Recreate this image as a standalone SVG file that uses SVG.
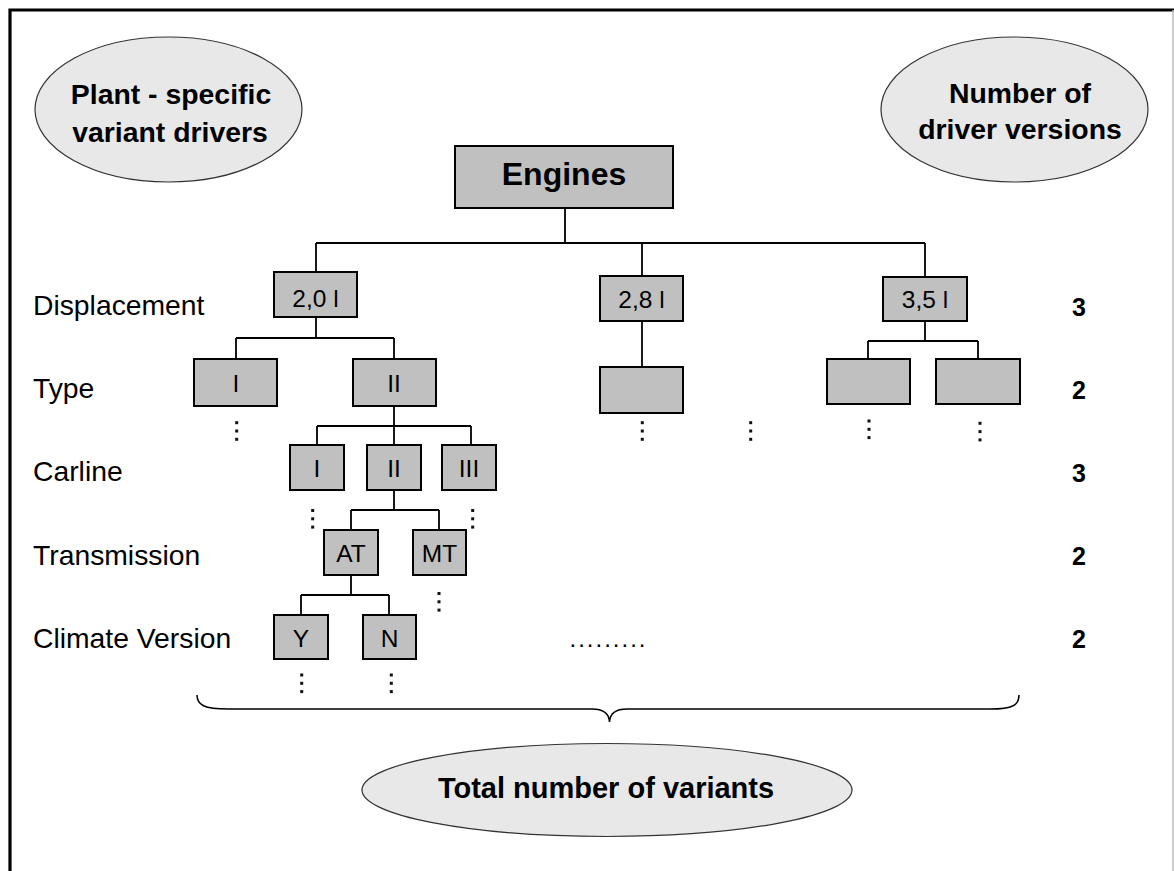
<svg xmlns="http://www.w3.org/2000/svg" xmlns:xlink="http://www.w3.org/1999/xlink" width="1174" height="871" viewBox="0 0 1174 871">
<style>
.oval{fill:#e8e8e8;stroke:#333;stroke-width:1.2}
.box{fill:#c0c0c0;stroke:#000;stroke-width:2}
.con{fill:none;stroke:#000;stroke-width:1.8}
.bt{font-family:"Liberation Sans",Arial,sans-serif;font-weight:bold;fill:#000;text-anchor:middle}
.lbl{font-family:"Liberation Sans",Arial,sans-serif;font-size:28.3px;fill:#000}
.num{font-family:"Liberation Sans",Arial,sans-serif;font-size:25px;font-weight:bold;fill:#000}
.bx{font-family:"Liberation Sans",Arial,sans-serif;font-size:24.5px;fill:#000;text-anchor:middle}
</style>
<defs>
<g id="vd"><rect x="-1.5" y="-1.5" width="3" height="3" fill="#111"/><rect x="-1.5" y="6.8" width="3" height="3" fill="#111"/><rect x="-1.5" y="15.1" width="3" height="3" fill="#111"/></g>
</defs>
<rect width="1174" height="871" fill="#fff"/>
<g id="frame">
<path d="M10,871 L10,10 L1174,10" fill="none" stroke="#000" stroke-width="3.2"/>
<line x1="1173" y1="10" x2="1173" y2="871" stroke="#bbb" stroke-width="1.5"/>
</g>
<g id="connectors">
<path class="con" d="M565,208 V243 M316,243 H925 M316,243 V272 M642,243 V276 M925,243 V277"/>
<path class="con" d="M316,317 V338 M236,338 H394 M236,338 V359 M394,338 V359"/>
<path class="con" d="M642,321 V367"/>
<path class="con" d="M925,321 V341 M868,341 H978 M868,341 V359 M978,341 V359"/>
<path class="con" d="M394,406 V426 M317,426 H471 M317,426 V445 M394,426 V445 M471,426 V445"/>
<path class="con" d="M394,490 V510 M351,510 H439 M351,510 V530 M439,510 V530"/>
<path class="con" d="M351,575 V595 M301,595 H389 M301,595 V615 M389,595 V615"/>
</g>
<g id="ellipse-plant"><ellipse class="oval" cx="168.5" cy="109.5" rx="133.5" ry="72.5"/>
<text class="bt" x="171" y="104" font-size="28.4">Plant - specific</text>
<text class="bt" x="170" y="142" font-size="28.4">variant drivers</text></g>
<g id="ellipse-number"><ellipse class="oval" cx="1014.5" cy="109.5" rx="133.5" ry="72.5"/>
<text class="bt" x="1020" y="103" font-size="28.4">Number of</text>
<text class="bt" x="1020" y="139" font-size="28.4">driver versions</text></g>
<g id="engines"><rect class="box" x="455" y="146" width="218" height="62"/>
<text class="bt" x="564" y="185" font-size="32">Engines</text></g>
<g id="labels">
<text class="lbl" x="33" y="315">Displacement</text>
<text class="lbl" x="33" y="398">Type</text>
<text class="lbl" x="33" y="481">Carline</text>
<text class="lbl" x="33" y="565">Transmission</text>
<text class="lbl" x="33" y="648">Climate Version</text>
</g>
<g id="counts">
<text class="num" x="1072" y="316">3</text>
<text class="num" x="1072" y="399">2</text>
<text class="num" x="1072" y="482">3</text>
<text class="num" x="1072" y="565">2</text>
<text class="num" x="1072" y="648">2</text>
</g>
<g id="d20"><rect class="box" x="274" y="272" width="83" height="45"/><text class="bx" x="315.5" y="307">2,0 l</text></g>
<g id="d28"><rect class="box" x="600" y="276" width="83" height="45"/><text class="bx" x="641.5" y="308">2,8 l</text></g>
<g id="d35"><rect class="box" x="883" y="277" width="84" height="44"/><text class="bx" x="925" y="308">3,5 l</text></g>
<g id="typeI"><rect class="box" x="194" y="359" width="83" height="47"/><text class="bx" x="236" y="391.5">I</text></g>
<g id="typeII"><rect class="box" x="353" y="359" width="83" height="47"/><text class="bx" x="394" y="391.5">II</text></g>
<g id="type28"><rect class="box" x="600" y="367" width="83" height="46"/></g>
<g id="type35a"><rect class="box" x="827" y="359" width="83" height="45"/></g>
<g id="type35b"><rect class="box" x="936" y="359" width="84" height="45"/></g>
<g id="carI"><rect class="box" x="290" y="445" width="54" height="45"/><text class="bx" x="317" y="476.5">I</text></g>
<g id="carII"><rect class="box" x="367" y="445" width="54" height="45"/><text class="bx" x="394" y="476.5">II</text></g>
<g id="carIII"><rect class="box" x="442" y="445" width="54" height="45"/><text class="bx" x="469" y="476.5">III</text></g>
<g id="at"><rect class="box" x="324" y="530" width="54" height="45"/><text class="bx" x="351" y="561.5">AT</text></g>
<g id="mt"><rect class="box" x="413" y="530" width="53" height="45"/><text class="bx" x="439.5" y="561.5">MT</text></g>
<g id="cy"><rect class="box" x="274" y="615" width="54" height="44"/><text class="bx" x="301" y="646.5">Y</text></g>
<g id="cn"><rect class="box" x="363" y="615" width="53" height="44"/><text class="bx" x="389.5" y="646.5">N</text></g>
<g id="dots">
<use xlink:href="#vd" x="236.7" y="422.7"/>
<use xlink:href="#vd" x="642.3" y="422.7"/>
<use xlink:href="#vd" x="750.7" y="422.7"/>
<use xlink:href="#vd" x="869" y="421"/>
<use xlink:href="#vd" x="980" y="423.3"/>
<use xlink:href="#vd" x="312.7" y="510.5"/>
<use xlink:href="#vd" x="472.7" y="510.5"/>
<use xlink:href="#vd" x="439" y="593.5"/>
<use xlink:href="#vd" x="301.7" y="675"/>
<use xlink:href="#vd" x="391.3" y="675"/>
<text x="569.5" y="647" font-family="Liberation Sans, Arial, sans-serif" font-size="24" letter-spacing="2.0">.........</text>
</g>
<g id="brace"><path d="M197,695 C197,705 204,709 228,709 L592,709 C603,709 609,713 609.5,722 C610,713 616,709 627,709 L990,709 C1013,709 1019,705 1019,695" fill="none" stroke="#000" stroke-width="1.5"/></g>
<g id="ellipse-total"><ellipse class="oval" cx="607" cy="790" rx="245" ry="46.5"/>
<text class="bt" x="606" y="798" font-size="29">Total number of variants</text></g>
</svg>
